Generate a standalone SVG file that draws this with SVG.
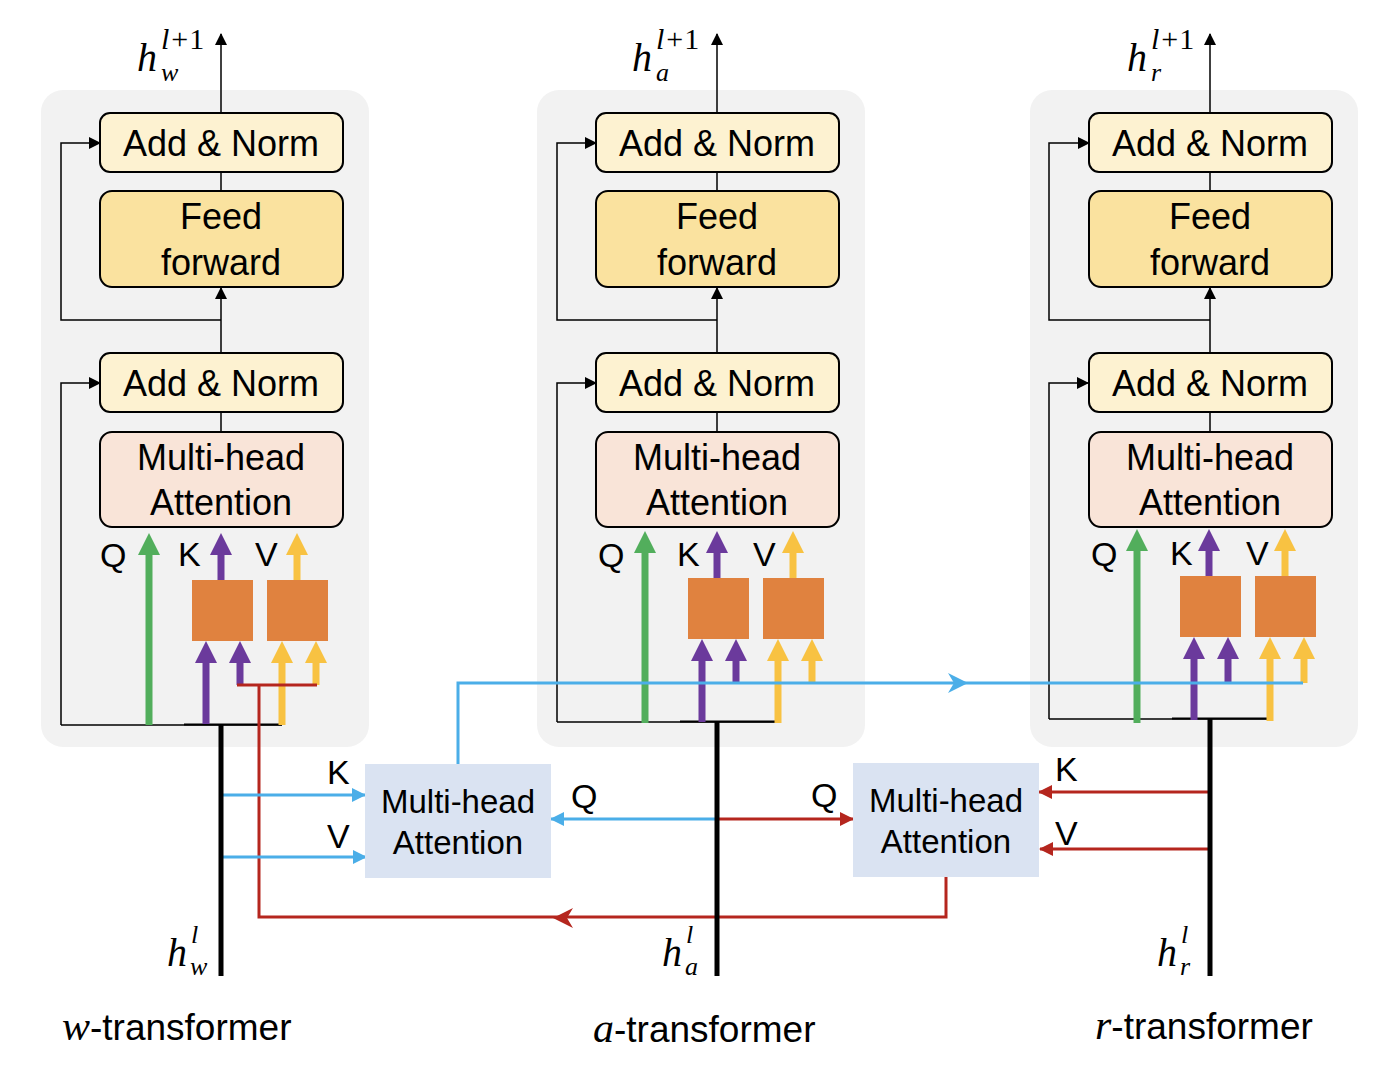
<svg xmlns="http://www.w3.org/2000/svg" width="1390" height="1070" viewBox="0 0 1390 1070">
<defs>
<style>
.panel{fill:#F2F2F2}
.an{fill:#FDF2D1;stroke:#000;stroke-width:2}
.ff{fill:#FAE29F;stroke:#000;stroke-width:2}
.mha{fill:#F9E4D8;stroke:#000;stroke-width:2}
.proj{fill:#E0823F}
.xatt{fill:#DAE3F2}
.t{font-family:"Liberation Sans",Arial,sans-serif;font-size:36px;fill:#000;text-anchor:middle}
.tb{font-family:"Liberation Sans",Arial,sans-serif;font-size:33px;fill:#000;text-anchor:middle}
.lab{font-family:"Liberation Sans",Arial,sans-serif;font-size:34px;fill:#000}
.cap{font-family:"Liberation Sans",Arial,sans-serif;font-size:37px;fill:#000}
.m{font-family:"Liberation Serif","Times New Roman",serif;font-style:italic;fill:#000}
.mu{font-family:"Liberation Serif","Times New Roman",serif;font-style:normal;fill:#000}
.thin{stroke:#000;stroke-width:1.5;fill:none}
.thick{stroke:#000;stroke-width:5;fill:none}
.g{stroke:#52AE5C;stroke-width:7;fill:none}
.p{stroke:#6B3A9C;stroke-width:7;fill:none}
.y{stroke:#F8C242;stroke-width:7;fill:none}
.bl{stroke:#4BAEE8;stroke-width:3;fill:none}
.rd{stroke:#B5261E;stroke-width:3;fill:none}
</style>
<marker id="ak" markerUnits="userSpaceOnUse" markerWidth="12" markerHeight="12" refX="11" refY="6" orient="auto"><path d="M0,0 L12,6 L0,12 z" fill="#000"/></marker>
<marker id="ab" markerUnits="userSpaceOnUse" markerWidth="14" markerHeight="14" refX="13" refY="7" orient="auto"><path d="M0,0 L14,7 L0,14 z" fill="#4BAEE8"/></marker>
<marker id="ar" markerUnits="userSpaceOnUse" markerWidth="14" markerHeight="14" refX="13" refY="7" orient="auto"><path d="M0,0 L14,7 L0,14 z" fill="#B5261E"/></marker>
<marker id="ag" markerUnits="userSpaceOnUse" markerWidth="22" markerHeight="22" refX="10" refY="11" orient="auto"><path d="M0,0 L22,11 L0,22 z" fill="#52AE5C"/></marker>
<marker id="ap" markerUnits="userSpaceOnUse" markerWidth="22" markerHeight="22" refX="10" refY="11" orient="auto"><path d="M0,0 L22,11 L0,22 z" fill="#6B3A9C"/></marker>
<marker id="ay" markerUnits="userSpaceOnUse" markerWidth="22" markerHeight="22" refX="10" refY="11" orient="auto"><path d="M0,0 L22,11 L0,22 z" fill="#F8C242"/></marker>
</defs>
<rect width="1390" height="1070" fill="#fff"/>

<!-- panels -->
<g id="panel-w"><rect class="panel" x="41" y="90" width="328" height="657" rx="22"/></g>
<g id="panel-a"><rect class="panel" x="537" y="90" width="328" height="657" rx="22"/></g>
<g id="panel-r"><rect class="panel" x="1030" y="90" width="328" height="657" rx="22"/></g>

<!-- connectors -->
<g id="connectors">
  <g id="conn-w">
    <line class="thin" x1="221" y1="113" x2="221" y2="34" marker-end="url(#ak)"/>
    <line class="thin" x1="221" y1="172" x2="221" y2="191"/>
    <path class="thin" d="M221,320 H61 V143 H100" marker-end="url(#ak)"/>
    <line class="thin" x1="221" y1="353" x2="221" y2="288" marker-end="url(#ak)"/>
    <line class="thin" x1="221" y1="412" x2="221" y2="432"/>
    <path class="thin" d="M61,725 V383 H100" marker-end="url(#ak)"/>
    <line class="thin" x1="61" y1="725" x2="282" y2="725"/>
    <line stroke="#000" stroke-width="2" x1="184" y1="724.5" x2="282" y2="724.5"/>
    <line class="g" x1="149" y1="725" x2="149" y2="545" marker-end="url(#ag)"/>
    <line class="p" x1="221" y1="580" x2="221" y2="545" marker-end="url(#ap)"/>
    <line class="y" x1="297" y1="580" x2="297" y2="545" marker-end="url(#ay)"/>
    <line class="p" x1="206" y1="724" x2="206" y2="653" marker-end="url(#ap)"/>
    <line class="p" x1="240" y1="685" x2="240" y2="653" marker-end="url(#ap)"/>
    <line class="y" x1="282" y1="725" x2="282" y2="653" marker-end="url(#ay)"/>
    <line class="y" x1="316" y1="685" x2="316" y2="653" marker-end="url(#ay)"/>
    <text class="lab" x="100" y="567">Q</text>
    <text class="lab" x="178" y="566">K</text>
    <text class="lab" x="255" y="566">V</text>
  </g>
  <g id="conn-a">
    <line class="thin" x1="717" y1="113" x2="717" y2="34" marker-end="url(#ak)"/>
    <line class="thin" x1="717" y1="172" x2="717" y2="191"/>
    <path class="thin" d="M717,320 H557 V143 H596" marker-end="url(#ak)"/>
    <line class="thin" x1="717" y1="353" x2="717" y2="288" marker-end="url(#ak)"/>
    <line class="thin" x1="717" y1="412" x2="717" y2="432"/>
    <g transform="translate(496,-2)">
      <path class="thin" d="M61,724 V385 H100" marker-end="url(#ak)"/>
      <line class="thin" x1="61" y1="724" x2="282" y2="724"/>
      <line stroke="#000" stroke-width="2" x1="184" y1="723.5" x2="282" y2="723.5"/>
      <line class="g" x1="149" y1="725" x2="149" y2="545" marker-end="url(#ag)"/>
      <line class="p" x1="221" y1="580" x2="221" y2="545" marker-end="url(#ap)"/>
      <line class="y" x1="297" y1="580" x2="297" y2="545" marker-end="url(#ay)"/>
      <line class="p" x1="206" y1="724" x2="206" y2="653" marker-end="url(#ap)"/>
      <line class="p" x1="240" y1="685" x2="240" y2="653" marker-end="url(#ap)"/>
      <line class="y" x1="282" y1="725" x2="282" y2="653" marker-end="url(#ay)"/>
      <line class="y" x1="316" y1="685" x2="316" y2="653" marker-end="url(#ay)"/>
      <text class="lab" x="102" y="569">Q</text>
      <text class="lab" x="181" y="568">K</text>
      <text class="lab" x="257" y="568">V</text>
    </g>
  </g>
  <g id="conn-r">
    <line class="thin" x1="1210" y1="113" x2="1210" y2="34" marker-end="url(#ak)"/>
    <line class="thin" x1="1210" y1="172" x2="1210" y2="191"/>
    <path class="thin" d="M1210,320 H1049 V143 H1089" marker-end="url(#ak)"/>
    <line class="thin" x1="1210" y1="353" x2="1210" y2="288" marker-end="url(#ak)"/>
    <line class="thin" x1="1210" y1="412" x2="1210" y2="432"/>
    <g transform="translate(988,-4)">
      <path class="thin" d="M61,723 V387 H100" marker-end="url(#ak)"/>
      <line class="thin" x1="61" y1="723" x2="282" y2="723"/>
      <line stroke="#000" stroke-width="2" x1="184" y1="722.5" x2="282" y2="722.5"/>
      <line class="g" x1="149" y1="727" x2="149" y2="545" marker-end="url(#ag)"/>
      <line class="p" x1="221" y1="580" x2="221" y2="545" marker-end="url(#ap)"/>
      <line class="y" x1="297" y1="580" x2="297" y2="545" marker-end="url(#ay)"/>
      <line class="p" x1="206" y1="724" x2="206" y2="653" marker-end="url(#ap)"/>
      <line class="p" x1="240" y1="687" x2="240" y2="653" marker-end="url(#ap)"/>
      <line class="y" x1="282" y1="725" x2="282" y2="653" marker-end="url(#ay)"/>
      <line class="y" x1="316" y1="687" x2="316" y2="653" marker-end="url(#ay)"/>
      <text class="lab" x="103" y="570">Q</text>
      <text class="lab" x="182" y="569">K</text>
      <text class="lab" x="258" y="569">V</text>
    </g>
  </g>
  <!-- cross-transformer connectors -->
  <path class="rd" d="M946,877 V917 H259 V685"/>
  <line class="rd" x1="237" y1="685" x2="317" y2="685"/>
  <path d="M553,918 L573,908 L567,918 L573,928 z" fill="#B5261E"/>
  <path class="bl" d="M458,764 V683 H1303"/>
  <path d="M968,683 L948,673 L954,683 L948,693 z" fill="#4BAEE8"/>
  <line class="bl" x1="221" y1="795" x2="365" y2="795" marker-end="url(#ab)"/>
  <line class="bl" x1="221" y1="857" x2="366" y2="857" marker-end="url(#ab)"/>
  <line class="bl" x1="717" y1="819" x2="551" y2="819" marker-end="url(#ab)"/>
  <line class="rd" x1="717" y1="819" x2="853" y2="819" marker-end="url(#ar)"/>
  <line class="rd" x1="1209" y1="792" x2="1039" y2="792" marker-end="url(#ar)"/>
  <line class="rd" x1="1209" y1="849" x2="1040" y2="849" marker-end="url(#ar)"/>
  <line class="thick" x1="221" y1="725" x2="221" y2="976"/>
  <line class="thick" x1="717" y1="722" x2="717" y2="976"/>
  <line class="thick" x1="1210" y1="719" x2="1210" y2="976"/>
  <text class="lab" x="327" y="784">K</text>
  <text class="lab" x="327" y="848">V</text>
  <text class="lab" x="571" y="808">Q</text>
  <text class="lab" x="811" y="807">Q</text>
  <text class="lab" x="1055" y="781">K</text>
  <text class="lab" x="1055" y="845">V</text>
</g>

<!-- w-transformer nodes -->
<g id="w-addnorm2"><rect class="an" x="100" y="113" width="243" height="59" rx="10"/><text class="t" x="221" y="156">Add &amp; Norm</text></g>
<g id="w-ff"><rect class="ff" x="100" y="191" width="243" height="96" rx="12"/><text class="t" x="221" y="229">Feed</text><text class="t" x="221" y="275">forward</text></g>
<g id="w-addnorm1"><rect class="an" x="100" y="353" width="243" height="59" rx="10"/><text class="t" x="221" y="396">Add &amp; Norm</text></g>
<g id="w-mha"><rect class="mha" x="100" y="432" width="243" height="95" rx="12"/><text class="t" x="221" y="470">Multi-head</text><text class="t" x="221" y="515">Attention</text></g>
<g id="w-projK"><rect class="proj" x="192" y="580" width="61" height="61"/></g>
<g id="w-projV"><rect class="proj" x="267" y="580" width="61" height="61"/></g>

<!-- a-transformer nodes -->
<g id="a-addnorm2"><rect class="an" x="596" y="113" width="243" height="59" rx="10"/><text class="t" x="717" y="156">Add &amp; Norm</text></g>
<g id="a-ff"><rect class="ff" x="596" y="191" width="243" height="96" rx="12"/><text class="t" x="717" y="229">Feed</text><text class="t" x="717" y="275">forward</text></g>
<g id="a-addnorm1"><rect class="an" x="596" y="353" width="243" height="59" rx="10"/><text class="t" x="717" y="396">Add &amp; Norm</text></g>
<g id="a-mha"><rect class="mha" x="596" y="432" width="243" height="95" rx="12"/><text class="t" x="717" y="470">Multi-head</text><text class="t" x="717" y="515">Attention</text></g>
<g id="a-projK"><rect class="proj" x="688" y="578" width="61" height="61"/></g>
<g id="a-projV"><rect class="proj" x="763" y="578" width="61" height="61"/></g>

<!-- r-transformer nodes -->
<g id="r-addnorm2"><rect class="an" x="1089" y="113" width="243" height="59" rx="10"/><text class="t" x="1210" y="156">Add &amp; Norm</text></g>
<g id="r-ff"><rect class="ff" x="1089" y="191" width="243" height="96" rx="12"/><text class="t" x="1210" y="229">Feed</text><text class="t" x="1210" y="275">forward</text></g>
<g id="r-addnorm1"><rect class="an" x="1089" y="353" width="243" height="59" rx="10"/><text class="t" x="1210" y="396">Add &amp; Norm</text></g>
<g id="r-mha"><rect class="mha" x="1089" y="432" width="243" height="95" rx="12"/><text class="t" x="1210" y="470">Multi-head</text><text class="t" x="1210" y="515">Attention</text></g>
<g id="r-projK"><rect class="proj" x="1180" y="576" width="61" height="61"/></g>
<g id="r-projV"><rect class="proj" x="1255" y="576" width="61" height="61"/></g>

<!-- cross attention nodes -->
<g id="cross-att-wa"><rect class="xatt" x="365" y="764" width="186" height="114"/><text class="tb" x="458" y="813">Multi-head</text><text class="tb" x="458" y="854">Attention</text></g>
<g id="cross-att-ar"><rect class="xatt" x="853" y="763" width="186" height="114"/><text class="tb" x="946" y="812">Multi-head</text><text class="tb" x="946" y="853">Attention</text></g>

<!-- math labels -->
<g id="lbl-hw-out"><text class="m" x="137" y="71" font-size="40">h</text><text x="161" y="49" font-size="30"><tspan class="m">l</tspan><tspan class="mu" dx="2">+</tspan><tspan class="mu" dx="1">1</tspan></text><text class="m" x="161" y="81" font-size="26">w</text></g>
<g id="lbl-ha-out"><text class="m" x="632" y="71" font-size="40">h</text><text x="656" y="49" font-size="30"><tspan class="m">l</tspan><tspan class="mu" dx="2">+</tspan><tspan class="mu" dx="1">1</tspan></text><text class="m" x="656" y="81" font-size="26">a</text></g>
<g id="lbl-hr-out"><text class="m" x="1127" y="71" font-size="40">h</text><text x="1151" y="49" font-size="30"><tspan class="m">l</tspan><tspan class="mu" dx="2">+</tspan><tspan class="mu" dx="1">1</tspan></text><text class="m" x="1151" y="81" font-size="26">r</text></g>
<g id="lbl-hw-in"><text class="m" x="167" y="966" font-size="40">h</text><text class="m" x="191" y="943" font-size="26">l</text><text class="m" x="190" y="975" font-size="26">w</text></g>
<g id="lbl-ha-in"><text class="m" x="662" y="966" font-size="40">h</text><text class="m" x="686" y="943" font-size="26">l</text><text class="m" x="685" y="975" font-size="26">a</text></g>
<g id="lbl-hr-in"><text class="m" x="1157" y="966" font-size="40">h</text><text class="m" x="1181" y="943" font-size="26">l</text><text class="m" x="1180" y="975" font-size="26">r</text></g>

<g id="captions">
  <text x="62" y="1040"><tspan class="m" font-size="42">w</tspan><tspan class="cap">-transformer</tspan></text>
  <text x="593" y="1042"><tspan class="m" font-size="42">a</tspan><tspan class="cap">-transformer</tspan></text>
  <text x="1095" y="1039"><tspan class="m" font-size="42">r</tspan><tspan class="cap">-transformer</tspan></text>
</g>
</svg>
